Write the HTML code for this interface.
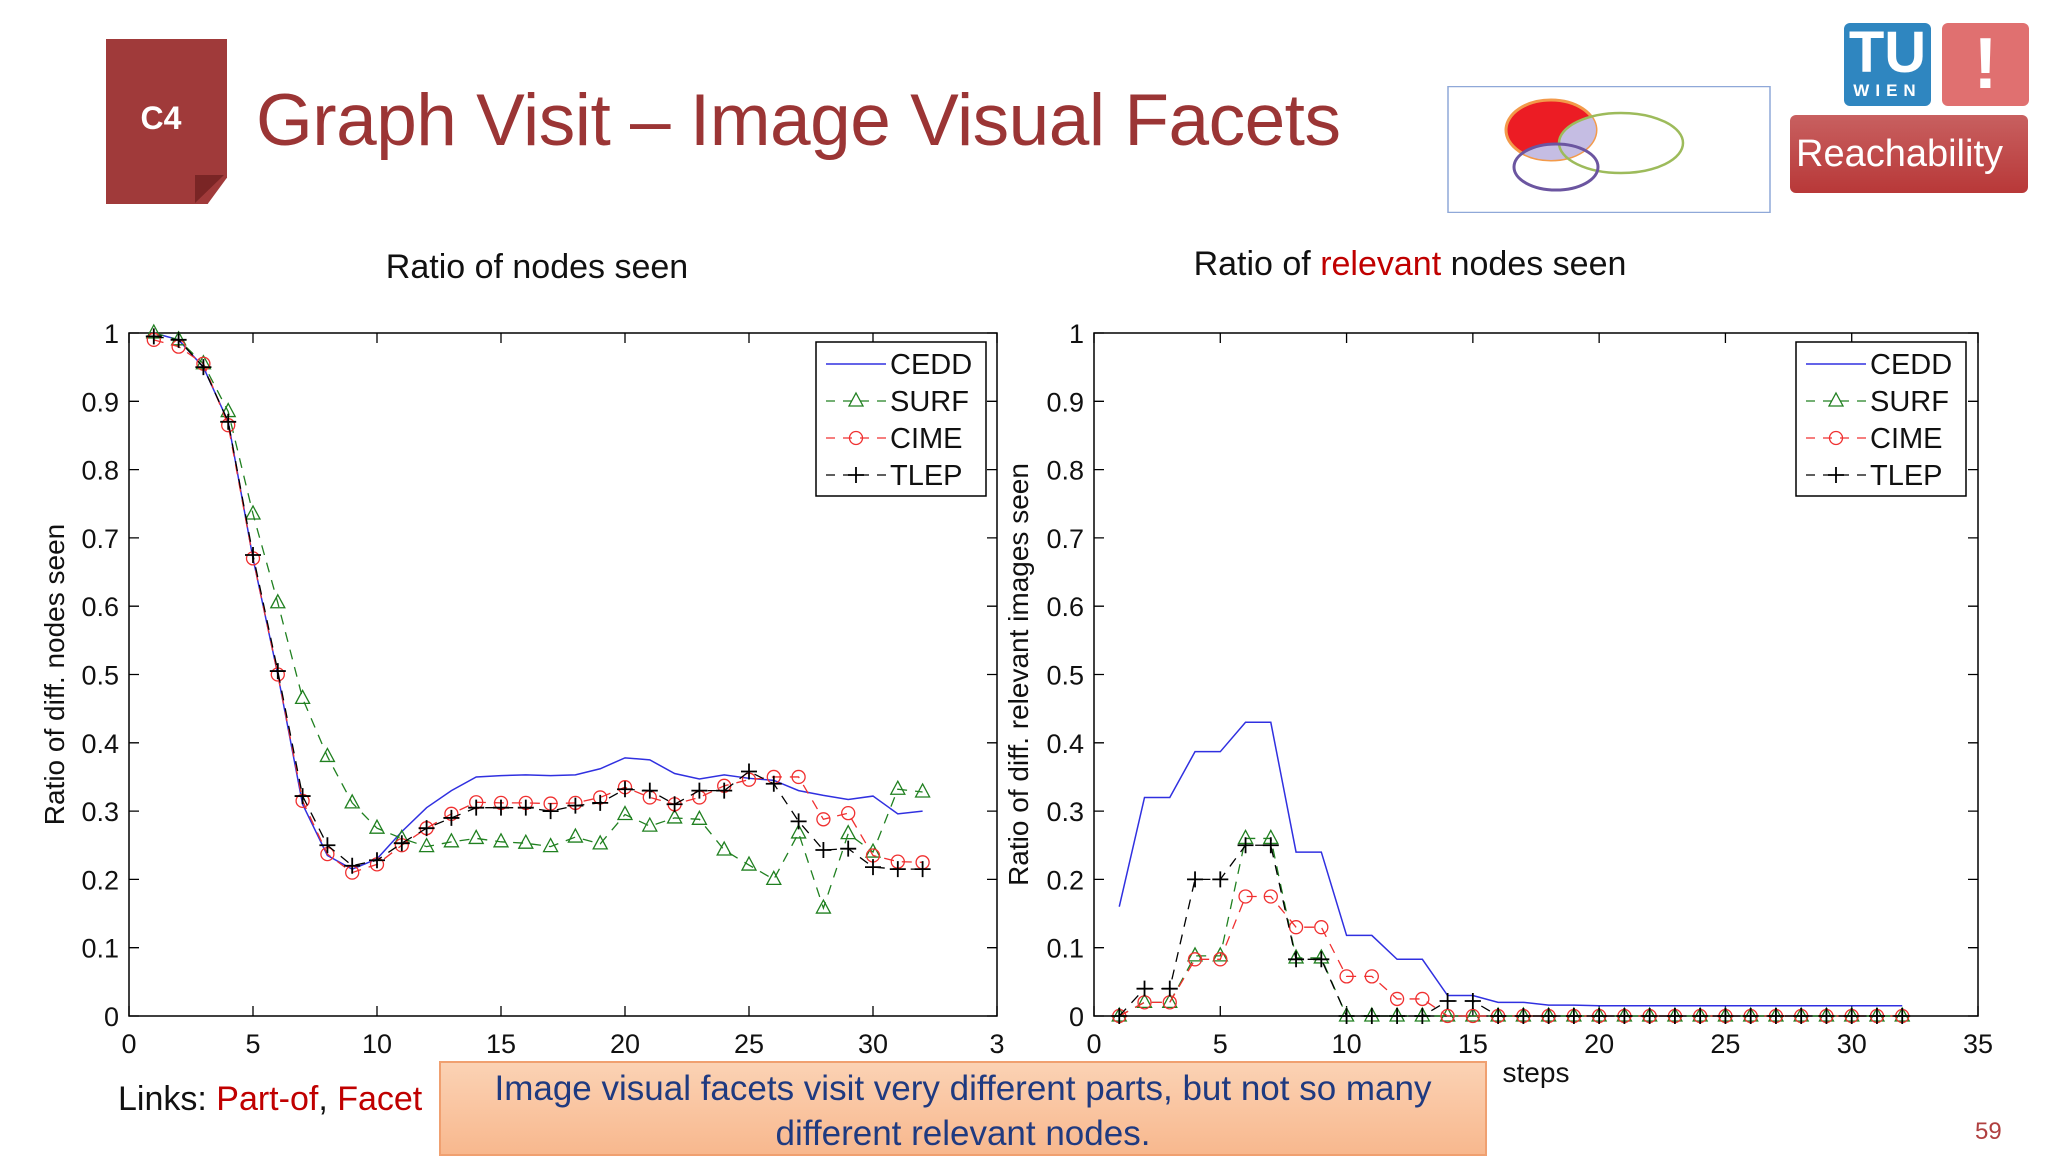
<!DOCTYPE html>
<html><head><meta charset="utf-8"><style>
body{margin:0;width:2048px;height:1152px;background:#fff;overflow:hidden;position:relative;font-family:"Liberation Sans",sans-serif}
.abs{position:absolute}
</style></head><body>
<div class="abs" style="left:106px;top:39px;width:121px;height:165px;background:#a03a3a;box-shadow:3px 3px 5px rgba(0,0,0,.3);clip-path:polygon(0 0,100% 0,100% 84%,84% 100%,0 100%)"></div>
<div class="abs" style="left:195px;top:175px;width:29px;height:28px;background:#7a2525;clip-path:polygon(100% 0,0 100%,0 0)"></div>
<div class="abs" style="left:106px;top:100px;width:110px;text-align:center;color:#fff;font-size:32px;font-weight:bold">C4</div>
<div class="abs" style="left:256px;top:79px;font-size:73px;color:#9b3535;font-family:'Liberation Sans',sans-serif;letter-spacing:-0.5px">Graph Visit – Image Visual Facets</div>

<svg class="abs" style="left:1447px;top:86px" width="324" height="127">
<rect x="1" y="0.5" width="322" height="126" fill="#fff" stroke="#8fa8d8" stroke-width="1.5"/>
<ellipse cx="104" cy="44" rx="45" ry="30" fill="#ec1c24" stroke="#f39a4a" stroke-width="3"/>
<clipPath id="c1"><ellipse cx="104" cy="44" rx="45" ry="30"/></clipPath>
<ellipse cx="174" cy="57" rx="62" ry="30" fill="#c5bde3" clip-path="url(#c1)"/>
<ellipse cx="109" cy="81" rx="42" ry="23" fill="#c5bde3" clip-path="url(#c1)"/>
<ellipse cx="174" cy="57" rx="62" ry="30" fill="none" stroke="#9dbb5b" stroke-width="2.5"/>
<ellipse cx="109" cy="81" rx="42" ry="23" fill="none" stroke="#6b55a0" stroke-width="3"/>
</svg>
<div class="abs" style="left:1844px;top:23px;width:87px;height:83px;background:#2f86c0;border-radius:6px;color:#fff;text-align:center">
<div style="font-size:58px;font-weight:bold;line-height:56px;margin-top:2px">TU</div><div style="font-size:17px;letter-spacing:6px;font-weight:bold">WIEN</div></div>
<div class="abs" style="left:1942px;top:23px;width:87px;height:83px;background:#e07070;border-radius:6px;color:#fff;text-align:center;font-size:72px;font-weight:bold;line-height:83px">!</div>
<div class="abs" style="left:1790px;top:115px;width:238px;height:78px;background:linear-gradient(#c86060,#b83838);border-radius:6px;color:#fff;font-size:38px;line-height:78px;padding-left:6px;box-sizing:border-box">Reachability</div>

<div class="abs" style="left:337px;top:248px;width:400px;text-align:center;font-size:34px;color:#111">Ratio of nodes seen</div>
<div class="abs" style="left:1110px;top:245px;width:600px;text-align:center;font-size:34px;color:#111">Ratio of <span style="color:#c00000">relevant</span> nodes seen</div>

<svg id="chart" class="abs" style="left:0;top:0" width="2048" height="1152"></svg>

<div class="abs" style="left:118px;top:1080px;font-size:34px;color:#111">Links: <span style="color:#c00000">Part-of</span>, <span style="color:#c00000">Facet</span></div>
<div class="abs" style="left:439px;top:1061px;width:1048px;height:95px;background:linear-gradient(#fbd2b4,#f8b88e);border:2px solid #f0a070;box-sizing:border-box;text-align:center;font-size:35px;line-height:45px;color:#1f3a80;padding-top:3px">Image visual facets visit very different parts, but not so many<br>different relevant nodes.</div>
<div class="abs" style="left:1975px;top:1118px;font-size:24px;color:#b04040">59</div>

<script>
const steps=[1,2,3,4,5,6,7,8,9,10,11,12,13,14,15,16,17,18,19,20,21,22,23,24,25,26,27,28,29,30,31,32];
const xTicks=[0,5,10,15,20,25,30,35];
const yTicks=[0,0.1,0.2,0.3,0.4,0.5,0.6,0.7,0.8,0.9,1];
const yTickLabels=["0","0.1","0.2","0.3","0.4","0.5","0.6","0.7","0.8","0.9","1"];
const leftCEDD=[1,0.99,0.95,0.87,0.67,0.5,0.31,0.235,0.215,0.23,0.27,0.305,0.33,0.35,0.352,0.353,0.352,0.353,0.362,0.378,0.375,0.355,0.347,0.353,0.348,0.345,0.33,0.323,0.317,0.322,0.296,0.3];
const leftSURF=[1,0.99,0.955,0.885,0.735,0.605,0.465,0.38,0.312,0.275,0.26,0.248,0.255,0.26,0.255,0.253,0.248,0.262,0.252,0.295,0.278,0.29,0.288,0.243,0.221,0.2,0.268,0.158,0.267,0.24,0.332,0.328];
const leftCIME=[0.99,0.98,0.955,0.865,0.67,0.5,0.315,0.237,0.21,0.222,0.25,0.275,0.296,0.313,0.312,0.312,0.311,0.312,0.32,0.335,0.32,0.31,0.32,0.337,0.346,0.35,0.35,0.288,0.297,0.235,0.226,0.225];
const leftTLEP=[0.995,0.99,0.95,0.87,0.675,0.505,0.322,0.25,0.22,0.228,0.253,0.275,0.29,0.305,0.305,0.305,0.3,0.308,0.312,0.332,0.33,0.31,0.33,0.33,0.358,0.34,0.285,0.243,0.245,0.218,0.215,0.215];
const rightCEDD=[0.16,0.32,0.32,0.387,0.387,0.43,0.43,0.24,0.24,0.118,0.118,0.083,0.083,0.03,0.03,0.02,0.02,0.016,0.016,0.015,0.015,0.015,0.015,0.015,0.015,0.015,0.015,0.015,0.015,0.015,0.015,0.015];
const rightSURF=[0,0.02,0.02,0.088,0.088,0.26,0.26,0.085,0.085,0,0,0,0,0,0,0,0,0,0,0,0,0,0,0,0,0,0,0,0,0,0,0];
const rightCIME=[0,0.02,0.02,0.083,0.083,0.175,0.175,0.13,0.13,0.058,0.058,0.025,0.025,0,0,0,0,0,0,0,0,0,0,0,0,0,0,0,0,0,0,0];
const rightTLEP=[0,0.04,0.04,0.2,0.2,0.25,0.25,0.083,0.083,0,0,0,0,0.022,0.022,0,0,0,0,0,0,0,0,0,0,0,0,0,0,0,0,0];
const seriesNames=["CEDD","SURF","CIME","TLEP"];

const NS="http://www.w3.org/2000/svg";
const svg=document.getElementById('chart');
function mk(tag,attrs,parent){const e=document.createElementNS(NS,tag);for(const k in attrs)e.setAttribute(k,attrs[k]);(parent||svg).appendChild(e);return e;}
const styles=[{c:"#3030e0",d:"",m:null,w:1.5},{c:"#208020",d:"10,8",m:"tri",w:1.3},{c:"#f03030",d:"10,8",m:"circ",w:1.3},{c:"#000",d:"10,8",m:"plus",w:1.3}];
function marker(g,t,x,y,c){
  if(t==="tri"){const m=mk('path',{d:`M${x},${y-8}L${x+7},${y+5}L${x-7},${y+5}Z`,fill:'none',stroke:c,'stroke-width':1.3},g);}
  else if(t==="circ"){const m=mk('circle',{cx:x,cy:y,r:6.5,fill:'none',stroke:c,'stroke-width':1.3},g);}
  else if(t==="plus"){const m=mk('path',{d:`M${x-8},${y}H${x+8}M${x},${y-8}V${y+8}`,stroke:c,'stroke-width':1.8},g);}
}
function chart(name,L,R,T,B,data,ylabel,ylx,last35,legX){
  const g=mk('g',{});
  
  
  const xs=v=>L+(v/35)*(R-L), ys=v=>B-v*(B-T);
  mk('rect',{x:L,y:T,width:R-L,height:B-T,fill:'#fff',stroke:'#000','stroke-width':1.5},g);
  xTicks.forEach((t,i)=>{const x=xs(t);
    mk('path',{d:`M${x},${B}V${B-10}M${x},${T}V${T+10}`,stroke:'#000','stroke-width':1.3},g);
    const tx=mk('text',{x:x,y:B+37,'text-anchor':'middle','font-size':27,fill:'#111'},g);
    tx.textContent=(i===xTicks.length-1&&last35)?"3":String(t);
    
    });
  yTicks.forEach((t,i)=>{const y=ys(t);
    mk('path',{d:`M${L},${y}H${L+10}M${R},${y}H${R-10}`,stroke:'#000','stroke-width':1.3},g);
    const tx=mk('text',{x:L-10,y:y+10,'text-anchor':'end','font-size':27,fill:'#111'},g);
    tx.textContent=yTickLabels[i];
    
    });
  const yl=mk('text',{x:ylx,y:(T+B)/2,'text-anchor':'middle','font-size':28,fill:'#111',transform:`rotate(-90 ${ylx} ${(T+B)/2})`},g);
  yl.textContent=ylabel;
  
  
  data.forEach((vals,si)=>{const s=styles[si];
    const pts=vals.map((v,i)=>xs(steps[i])+','+ys(v)).join(' ');
    const pl=mk('polyline',{points:pts,fill:'none',stroke:s.c,'stroke-width':s.w,'stroke-dasharray':s.d},g);
    
    
    if(s.m)vals.forEach((v,i)=>marker(g,s.m,xs(steps[i]),ys(v),s.c));});
  const lg=mk('g',{},g);
  
  
  mk('rect',{x:legX,y:T+9,width:170,height:154,fill:'#fff',stroke:'#000','stroke-width':1.5},lg);
  seriesNames.forEach((n,i)=>{const s=styles[i];const y=T+31+i*37;
    mk('line',{x1:legX+10,x2:legX+70,y1:y,y2:y,stroke:s.c,'stroke-width':s.w,'stroke-dasharray':s.d?'9,8':''},lg);
    if(s.m)marker(lg,s.m,legX+40,y,s.c);
    const t=mk('text',{x:legX+74,y:y+10,'font-size':29,fill:'#111'},lg);t.textContent=n;
    
    });
}
chart('left-chart',129,997,333,1016,[leftCEDD,leftSURF,leftCIME,leftTLEP],'Ratio of diff. nodes seen',64,true,816);
chart('right-chart',1094,1978,333,1016,[rightCEDD,rightSURF,rightCIME,rightTLEP],'Ratio of diff. relevant images seen',1028,false,1796);
const st=mk('text',{x:1536,y:1082,'text-anchor':'middle','font-size':28,fill:'#111'});st.textContent='steps';


</script>
</body></html>
